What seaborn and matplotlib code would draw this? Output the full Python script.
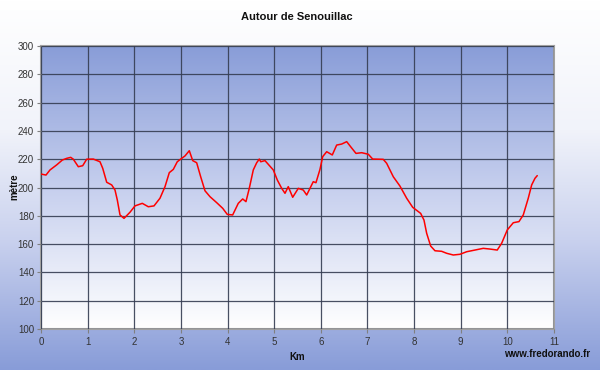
import numpy as np
import pandas as pd
import matplotlib
matplotlib.use("Agg")
import matplotlib.pyplot as plt
from matplotlib.colors import LinearSegmentedColormap
import seaborn as sns

title = "Autour de Senouillac"
xlabel = "Km"
ylabel = "mètre"
credit = "www.fredorando.fr"

km = [0.0, 0.107, 0.193, 0.337, 0.457, 0.551, 0.637, 0.693, 0.80, 0.894, 0.98,
      1.121, 1.265, 1.323, 1.409, 1.516, 1.587, 1.636, 1.694, 1.78, 1.908, 2.015,
      2.172, 2.301, 2.423, 2.551, 2.659, 2.751, 2.837, 2.922, 3.017, 3.087, 3.18,
      3.253, 3.338, 3.424, 3.516, 3.624, 3.767, 3.896, 3.994, 4.11, 4.23, 4.325,
      4.395, 4.466, 4.552, 4.625, 4.681, 4.711, 4.803, 4.981, 5.067, 5.161, 5.232,
      5.302, 5.397, 5.517, 5.624, 5.697, 5.838, 5.896, 5.982, 6.04, 6.126, 6.246,
      6.34, 6.447, 6.555, 6.64, 6.754, 6.876, 7.018, 7.112, 7.339, 7.412, 7.554,
      7.697, 7.841, 7.97, 8.141, 8.212, 8.27, 8.356, 8.448, 8.591, 8.699, 8.84,
      8.984, 9.127, 9.305, 9.483, 9.627, 9.783, 9.878, 9.998, 10.127, 10.249,
      10.341, 10.448, 10.521, 10.592, 10.641]
alt = [209.5, 208.8, 212.4, 216.0, 219.4, 220.6, 221.3, 220.0, 214.7, 215.4, 220.0,
       220.1, 218.2, 213.6, 203.7, 201.8, 198.2, 191.2, 180.6, 178.2, 182.5, 187.0,
       188.8, 186.4, 187.0, 192.4, 200.6, 210.5, 212.8, 218.2, 220.6, 222.3, 226.0,
       219.0, 217.5, 207.6, 197.7, 193.5, 189.3, 185.3, 181.0, 180.6, 188.8, 191.9,
       190.0, 199.4, 212.4, 217.5, 220.1, 218.2, 219.0, 212.4, 205.3, 199.4, 195.9,
       200.6, 193.1, 199.4, 198.2, 194.7, 204.1, 203.4, 212.8, 221.8, 225.3, 223.0,
       230.0, 230.7, 232.4, 228.8, 224.1, 224.6, 223.5, 220.1, 219.9, 217.1, 207.6,
       201.0, 192.4, 186.0, 181.7, 177.0, 167.6, 158.6, 155.3, 154.9, 153.5, 152.3,
       152.8, 154.6, 155.8, 157.0, 156.5, 155.8, 160.6, 170.0, 175.1, 175.9,
       180.6, 192.4, 201.8, 206.5, 208.4]

x_ticks = list(range(0, 12))
y_ticks = list(range(100, 301, 20))

df = pd.DataFrame({"km": km, "alt": alt})

sns.set_theme(style="white")
plt.rcParams["font.family"] = ["Liberation Sans", "DejaVu Sans"]

W, H = 600, 370
fig = plt.figure(figsize=(W / 100, H / 100), dpi=100)

# figure background gradient: white top -> blue bottom
bg = fig.add_axes([0, 0, 1, 1], zorder=-10)
fig_cmap = LinearSegmentedColormap.from_list(
    "figbg", [(0.0, "#ffffff"), (0.35, "#f1f3fa"), (0.65, "#c9d1ee"), (1.0, "#889cd8")])
bg.imshow(np.linspace(0, 1, 256).reshape(-1, 1), cmap=fig_cmap, aspect="auto",
          extent=[0, 1, 0, 1], origin="upper")
bg.set_axis_off()

left, right, top, bottom = 41, 554, 46, 329
aw, ah = right - left, bottom - top
ax = fig.add_axes([left / W, 1 - bottom / H, aw / W, ah / H])
ax.patch.set_visible(False)

plot_cmap = LinearSegmentedColormap.from_list(
    "plotbg", [(0.0, "#899dd8"), (0.5, "#c6cfee"), (1.0, "#ffffff")])
ax.imshow(np.linspace(0, 1, 256).reshape(-1, 1), cmap=plot_cmap, aspect="auto",
          extent=[0, 11, 100, 300], origin="upper", zorder=0)

sns.lineplot(data=df, x="km", y="alt", ax=ax, color="#ff0000", linewidth=1.1,
             zorder=3, estimator=None, sort=False)

ax.set_xlim(0, 11)
ax.set_ylim(100, 300)
ax.set_xticks(x_ticks)
ax.set_yticks(y_ticks)
ax.grid(True, color="#353d52", linewidth=0.9, alpha=0.9, zorder=1)
ax.set_axisbelow(False)
for line in ax.get_xgridlines() + ax.get_ygridlines():
    line.set_zorder(1)

for s in ax.spines.values():
    s.set_color("#a0a0a0")
    s.set_linewidth(1.5)

ax.tick_params(axis="both", which="both", direction="out", length=3, width=0.8,
               color="#808080", labelsize=7, labelcolor="#333333")
ax.tick_params(axis="x", bottom=True, pad=3)
ax.tick_params(axis="y", left=True, pad=2)

ax.set_xlabel(xlabel, fontsize=7, fontweight="bold", color="#111111")
ax.set_ylabel(ylabel, fontsize=7, fontweight="bold", color="#111111")
ax.xaxis.set_label_coords((297 - left) / aw, -(357 - bottom) / ah)
ax.yaxis.set_label_coords((14 - left) / aw, (bottom - 187) / ah)
ax.xaxis.label.set_va("center")
ax.yaxis.label.set_va("center")

fig.text(297 / W, 1 - 17 / H, title, ha="center", va="center",
         fontsize=8, fontweight="bold", color="#111111")
fig.text(590 / W, 1 - 354 / H, credit, ha="right", va="center",
         fontsize=7, fontweight="bold", color="#111111")

fig.savefig("out.png", dpi=100)
